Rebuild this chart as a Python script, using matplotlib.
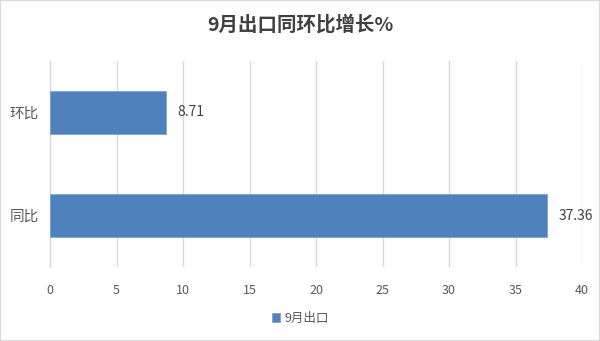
import matplotlib
matplotlib.use("Agg")
import matplotlib.pyplot as plt
from matplotlib.patches import Rectangle

plt.rcParams['font.family'] = ['Noto Sans CJK SC', 'DejaVu Sans']

categories = ['同比', '环比']
values = [37.36, 8.71]
series_name = '9月出口'
title = '9月出口同环比增长%'
xticks = [0, 5, 10, 15, 20, 25, 30, 35, 40]

bar_color = '#4F81BD'
text_color = '#595959'
grid_color = '#D9D9D9'

fig = plt.figure(figsize=(6.0, 3.41), dpi=100)
fig.patch.set_facecolor('white')
fig.patches.append(Rectangle((0, 0), 1, 1, transform=fig.transFigure,
                             fill=False, edgecolor='#D9D9D9', linewidth=1.5))

ax = fig.add_axes([50/600, 1-267/341, 532/600, 206/341])
ypos = list(range(len(categories)))
bars = ax.barh(ypos, values, height=0.42, color=bar_color,
               edgecolor='#7FA3D1', linewidth=0.6, label=series_name, zorder=3)
ax.set_ylim(-0.5, 1.5)
ax.set_xlim(0, 40)
ax.set_xticks(xticks)
ax.set_xticklabels([str(t) for t in xticks])
ax.set_yticks(ypos)
ax.set_yticklabels(categories)
ax.grid(axis='x', color=grid_color, linewidth=1, zorder=0)
ax.grid(axis='y', visible=False)
for s in ['top', 'right', 'bottom']:
    ax.spines[s].set_visible(False)
ax.spines['left'].set_color(grid_color)
ax.spines['left'].set_linewidth(1)
ax.tick_params(axis='x', length=0, pad=12, labelsize=9, labelcolor=text_color)
ax.tick_params(axis='y', length=0, pad=8, labelsize=10.5, labelcolor=text_color)

for y, v in zip(ypos, values):
    ax.text(v + 0.9, y, f'{v:.2f}', va='center', ha='left',
            fontsize=10, color='#404040')

fig.text(0.5, 1-25/341, title, ha='center', va='center', fontsize=14,
         fontweight='bold', color='#404040')

leg = fig.legend(handles=[bars], labels=[series_name], loc='center',
                 bbox_to_anchor=(0.5, 1-318/341), frameon=False,
                 fontsize=9, handlelength=0.7, handleheight=0.7,
                 handletextpad=0.3, labelcolor=text_color)

fig.savefig('out.png', dpi=100, facecolor='white')
